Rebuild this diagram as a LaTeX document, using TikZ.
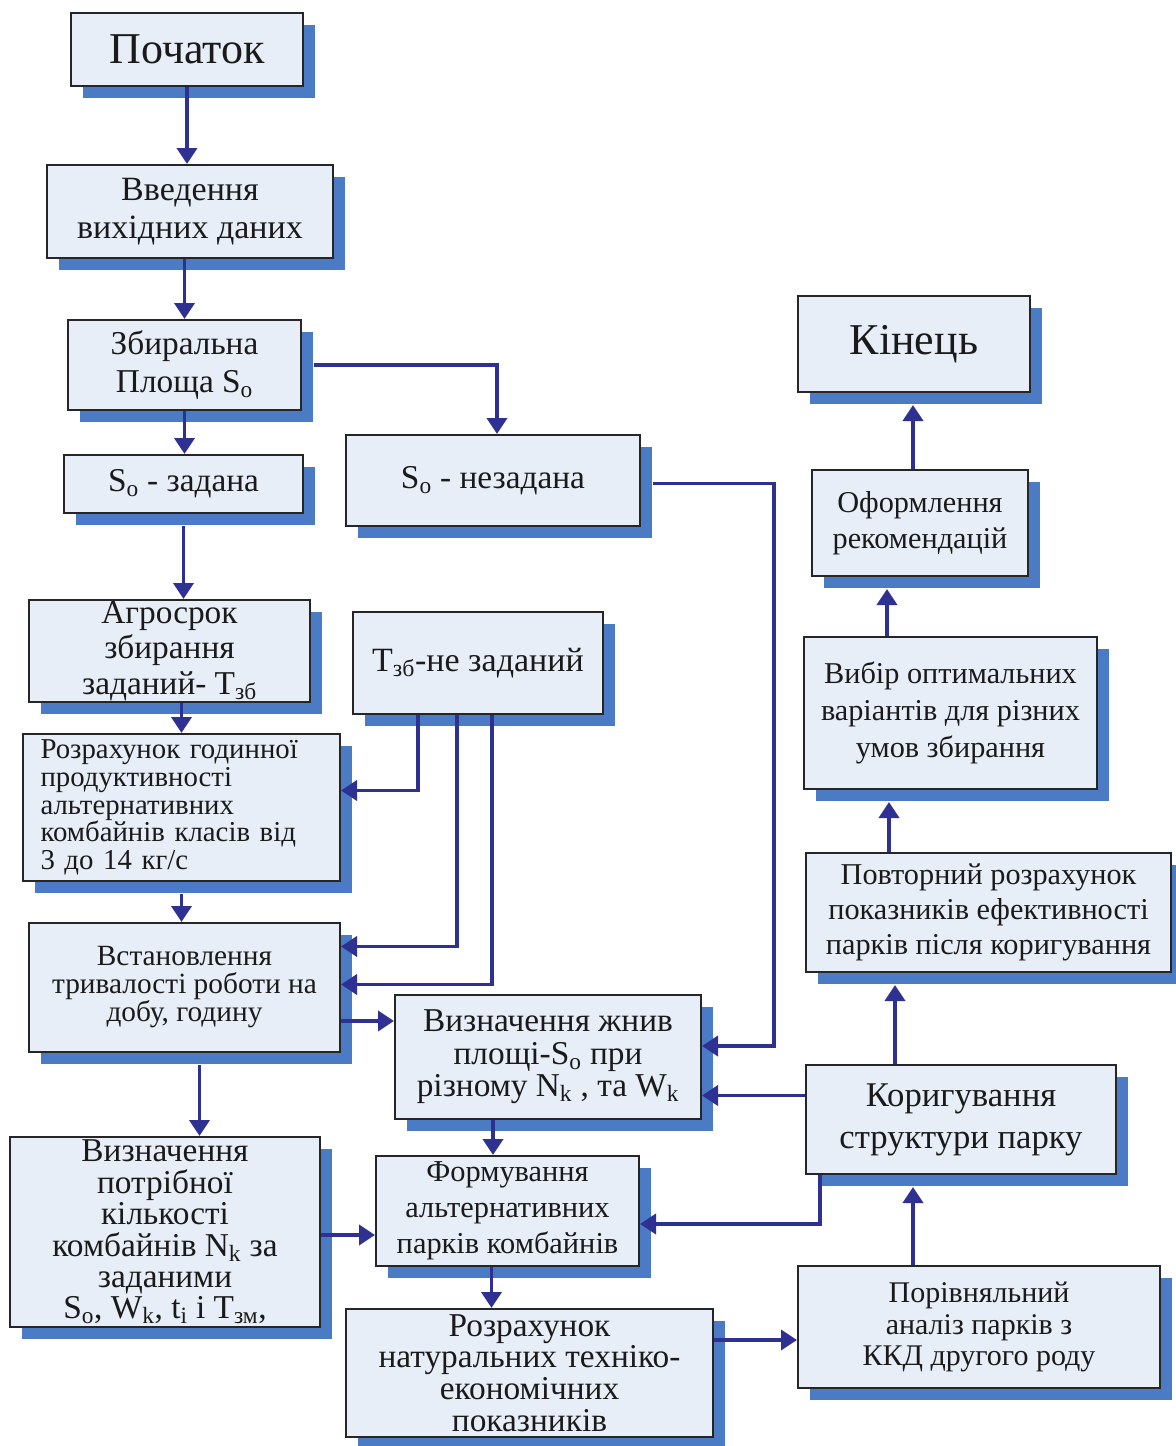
\documentclass[tikz,border=0pt]{standalone}
\usepackage{fontspec}
\setmainfont{Liberation Serif}
\usetikzlibrary{arrows.meta,calc,shadows}
\definecolor{arrowblue}{HTML}{2E3192}
\definecolor{shadowblue}{HTML}{4A7BC4}
\definecolor{boxfill}{HTML}{E8EEF8}
\definecolor{boxline}{HTML}{262626}
\definecolor{txt}{HTML}{1A1A1A}
\newcommand\fsz[2]{\fontsize{#1}{#2}\selectfont\lineskiplimit=-30pt\color{txt}}
\tikzset{
  box/.style={draw=boxline, line width=1.5pt, fill=boxfill, inner sep=0pt, align=center,
    general shadow={fill=shadowblue, shadow xshift=9pt, shadow yshift=-9pt}},
  wh/.style 2 args={minimum width=#1*0.75pt, minimum height=#2*0.75pt},
  arr/.style={draw=arrowblue, line width=2.8pt, -{Triangle[length=12pt,width=15pt]}},
}
\begin{document}
\begin{tikzpicture}[x=0.75pt,y=-0.75pt]
\useasboundingbox (0,0) rectangle (1176,1446);
% nodes
\node[box,font=\fsz{33}{36},wh={232}{73}] (start) at (187,49.5) {Початок};
\node[box,font=\fsz{25.5}{29},wh={286}{93}] (vved) at (190,211.5) {Введення\\вихідних даних};
\node[box,font=\fsz{25}{29},wh={233}{90}] (zbyr) at (184.5,365) {Збиральна\\Площа S\textsubscript{o}};
\node[box,font=\fsz{25}{29},wh={239}{58}] (sz) at (183.5,484) {S\textsubscript{o} - задана};
\node[box,font=\fsz{25}{29},wh={294}{91}] (snz) at (493,480.5) {S\textsubscript{o} - незадана};
\node[box,font=\fsz{25}{26.5},wh={281}{102}] (agro) at (169.5,651) {Агросрок\\збирання\\заданий- T\textsubscript{зб}};
\node[box,font=\fsz{25.5}{29},wh={250}{102}] (tzb) at (478,663) {T\textsubscript{зб}-не заданий};
\node[box,font=\fsz{21.6}{20.8},wh={317}{147},align=left,text width=282*0.75pt] (rozr) at (181.5,807.5)
  {Розрахунок годинної\\продуктивності\\альтернативних\\комбайнів класів від\\3 до 14 кг/с};
\node[box,font=\fsz{22}{21},wh={311}{129}] (vst) at (184.5,987.5) {Встановлення\\тривалості роботи на\\добу, годину};
\node[box,font=\fsz{25}{24.5},wh={306}{124}] (vzhn) at (548,1057)
  {Визначення жнив\\площі-S\textsubscript{o} при\\різному N\textsubscript{k} , та W\textsubscript{k}};
\node[box,font=\fsz{25}{23.6},wh={310}{190}] (vpotr) at (165,1232)
  {Визначення\\потрібної\\кількості\\комбайнів N\textsubscript{k} за\\заданими\\S\textsubscript{o}, W\textsubscript{k}, t\textsubscript{i} і T\textsubscript{зм},};
\node[box,font=\fsz{22.8}{27},wh={263}{110}] (form) at (507.5,1211) {Формування\\альтернативних\\парків комбайнів};
\node[box,font=\fsz{25}{23.8},wh={367}{128}] (rnat) at (529.5,1373)
  {Розрахунок\\натуральних техніко-\\економічних\\показників};
\node[box,font=\fsz{33}{36},wh={232}{96}] (kin) at (914,344) {Кінець};
\node[box,font=\fsz{22.7}{27},wh={216}{106}] (oform) at (920,523) {Оформлення\\рекомендацій};
\node[box,font=\fsz{22.7}{27.5},wh={293}{152}] (vybir) at (950.5,713) {Вибір оптимальних\\варіантів для різних\\умов збирання};
\node[box,font=\fsz{22.7}{26},wh={365}{119}] (povt) at (988.5,912.5)
  {Повторний розрахунок\\показників ефективності\\парків після коригування};
\node[box,font=\fsz{26}{31.5},wh={310}{109}] (kor) at (961,1119.5) {Коригування\\структури парку};
\node[box,font=\fsz{22.5}{23.5},wh={362}{122}] (porivn) at (979,1327) {Порівняльний\\аналіз парків з\\ККД другого роду};
% helper coordinates
\coordinate (k1) at ($(vzhn.west)+(0,-36)$);
\coordinate (l1) at ($(snz.east)+(133,3)$);
\coordinate (m1) at ($(kor.west)+(0,-24)$);
\coordinate (n1) at ($(vzhn.south)+(-55,0)$);
\coordinate (o1) at ($(vst.south)+(15,12)$);
\coordinate (p1) at ($(vpotr.east)+(0,3)$);
\coordinate (r1) at ($(form.south)+(-16,0)$);
\coordinate (s1) at ($(rnat.east)+(0,-33)$);
\coordinate (t1) at ($(porivn.north)+(-66,0)$);
\coordinate (u1) at ($(kor.north)+(-66,0)$);
\coordinate (v1) at ($(povt.north)+(-99.5,0)$);
\coordinate (w1) at ($(vybir.north)+(-63.5,0)$);
\coordinate (x1) at ($(oform.north)+(-7,0)$);
% connectors
\draw[arr] (start.south) -- (start.south |- vved.north);
\draw[arr] (zbyr.north |- vved.south) -- (zbyr.north);
\draw[arr] (zbyr.south) -- (zbyr.south |- sz.north);
\draw[arr] ($(zbyr.east)+(12,0)$) -| ($(snz.north)+(4,0)$);
\draw[arr] ($(sz.south)+(0,12)$) -- (sz.south |- agro.north);
\draw[arr] (rozr.north |- agro.south) -- (rozr.north);
\draw[arr] ($(tzb.south)+(-60,0)$) |- ($(rozr.east)+(0,-17)$);
\draw[arr] ($(tzb.south)+(-21,0)$) |- ($(vst.east)+(0,-41)$);
\draw[arr] ($(tzb.south)+(14,0)$) |- ($(vst.east)+(0,-3)$);
\draw[arr] ($(rozr.south)+(0,12)$) -- (rozr.south |- vst.north);
\draw[arr] (vst.east |- k1) -- (k1);
\draw[arr] ($(snz.east)+(12,3)$) -- (l1) |- ($(vzhn.east)+(0,-11)$);
\draw[arr] (m1) -- (m1 -| vzhn.east);
\draw[arr] (n1) -- (n1 |- form.north);
\draw[arr] (o1) -- (o1 |- vpotr.north);
\draw[arr] (p1) -- (p1 -| form.west);
\draw[arr] ($(kor.south)+(-141,0)$) |- ($(form.east)+(0,13)$);
\draw[arr] (r1) -- (r1 |- rnat.north);
\draw[arr] (s1) -- (s1 -| porivn.west);
\draw[arr] (t1) -- ($(t1 |- kor.south)+(0,12)$);
\draw[arr] (u1) -- ($(u1 |- povt.south)+(0,12)$);
\draw[arr] (v1) -- ($(v1 |- vybir.south)+(0,12)$);
\draw[arr] (w1) -- ($(w1 |- oform.south)+(0,12)$);
\draw[arr] (x1) -- ($(x1 |- kin.south)+(0,12)$);
\end{tikzpicture}
\end{document}
